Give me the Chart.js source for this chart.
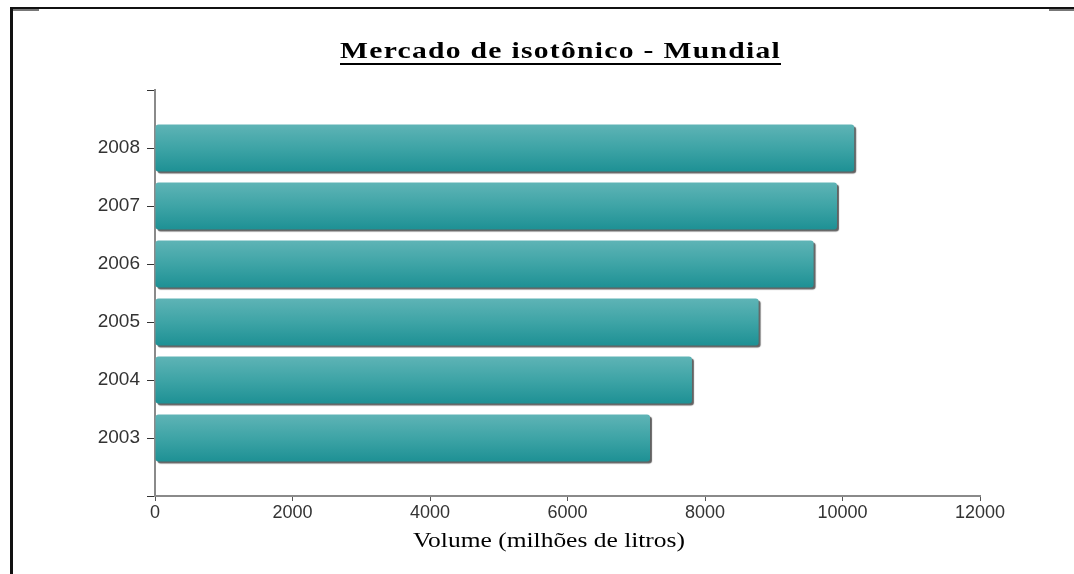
<!DOCTYPE html>
<html>
<head>
<meta charset="utf-8">
<script src="https://cdn.jsdelivr.net/npm/chart.js@4/dist/chart.umd.min.js"></script>
<style>
  html, body { margin: 0; padding: 0; background: #fff; }
  #wrap { width: 1074px; height: 574px; position: relative; }
</style>
</head>
<body>
<div id="wrap"><canvas id="chart" width="1074" height="574"></canvas></div>
<script>
// values
const years = ['2008', '2007', '2006', '2005', '2004', '2003'];
const volumes = [10170, 9920, 9580, 8780, 7810, 7200];
const xTicks = [0, 2000, 4000, 6000, 8000, 10000, 12000];
const chartTitle = 'Mercado de isotônico - Mundial';
const xTitle = 'Volume (milhões de litros)';

// empty slot above and below the bars, like the original
const labels = [''].concat(years, ['']);
const values = [null].concat(volumes, [null]);

const ctx = document.getElementById('chart').getContext('2d');

const barFill = (c) => {
  const chart = c.chart;
  const y = chart.scales.y;
  if (!y || c.dataIndex == null) return '#3aa3a5';
  const mid = y.getPixelForValue(c.dataIndex);
  if (!isFinite(mid)) return '#3aa3a5';
  const g = chart.ctx.createLinearGradient(0, mid - 24, 0, mid + 24);
  g.addColorStop(0, '#5fb4b6');
  g.addColorStop(0.5, '#3ea4a6');
  g.addColorStop(1, '#1d9094');
  return g;
};

// text stretched sideways to a given width (the scan is wide)
function wideText(c, text, x, y, width) {
  const w = c.measureText(text).width;
  c.save();
  c.translate(x, y);
  c.scale(width / w, 1);
  c.fillText(text, 0, 0);
  c.restore();
}

const decor = {
  id: 'decor',
  beforeDraw(chart) {
    const c = chart.ctx;
    c.save();
    c.fillStyle = '#fff';
    c.fillRect(0, 0, chart.width, chart.height);
    // frame of the scanned page
    c.fillStyle = '#111';
    c.fillRect(10, 7, chart.width - 10, 2);
    c.fillRect(10, 7, 3, chart.height - 7);
    c.fillStyle = '#777';
    c.fillRect(13, 9, 26, 2);
    c.fillRect(1049, 9, 25, 2);
    c.restore();
  },
  beforeDatasetsDraw(chart) {
    chart.ctx.save();
    chart.ctx.shadowColor = 'rgba(70,70,70,0.85)';
    chart.ctx.shadowOffsetX = 2;
    chart.ctx.shadowOffsetY = 2;
    chart.ctx.shadowBlur = 1;
  },
  afterDatasetsDraw(chart) {
    chart.ctx.restore();
  },
  afterDraw(chart) {
    const c = chart.ctx;
    c.save();
    c.fillStyle = '#000';
    c.textAlign = 'left';
    c.textBaseline = 'alphabetic';
    // title, wide and underlined
    c.font = 'bold 23px "Liberation Serif"';
    c.letterSpacing = '1px';
    wideText(c, chartTitle, 340, 58, 441);
    c.fillRect(340, 63, 441, 2);
    // x axis title
    c.font = '20px "Liberation Serif"';
    c.letterSpacing = '0px';
    wideText(c, xTitle, 413, 547, 272);
    c.restore();
  }
};

new Chart(ctx, {
  type: 'bar',
  data: {
    labels: labels,
    datasets: [{
      data: values,
      backgroundColor: barFill,
      borderWidth: 0,
      borderRadius: 3,
      borderSkipped: false,
      barPercentage: 0.81,
      categoryPercentage: 1
    }]
  },
  options: {
    indexAxis: 'y',
    responsive: false,
    animation: false,
    layout: { padding: { top: 90, right: 94, left: 0, bottom: 0 } },
    plugins: {
      legend: { display: false },
      title: { display: false },
      tooltip: { enabled: false }
    },
    scales: {
      x: {
        min: 0,
        max: 12000,
        afterFit: (s) => { s.height = 78; },
        afterBuildTicks: (s) => { s.ticks = xTicks.map(v => ({ value: v })); },
        grid: { drawOnChartArea: false, drawTicks: true, tickLength: 5, color: '#555' },
        border: { color: '#8a8a8a', width: 2 },
        ticks: {
          padding: 1,
          color: '#333',
          font: { family: '"Liberation Sans", Arial', size: 18 },
          callback: (v) => String(v)
        }
      },
      y: {
        offset: false,
        afterFit: (s) => { s.width = 155; },
        grid: { offset: false, drawOnChartArea: false, drawTicks: true, tickLength: 8, color: '#333' },
        border: { color: '#8a8a8a', width: 2 },
        ticks: {
          padding: 7,
          color: '#333',
          font: { family: '"Liberation Sans", Arial', size: 19 }
        }
      }
    }
  },
  plugins: [decor]
});
</script>
</body>
</html>
